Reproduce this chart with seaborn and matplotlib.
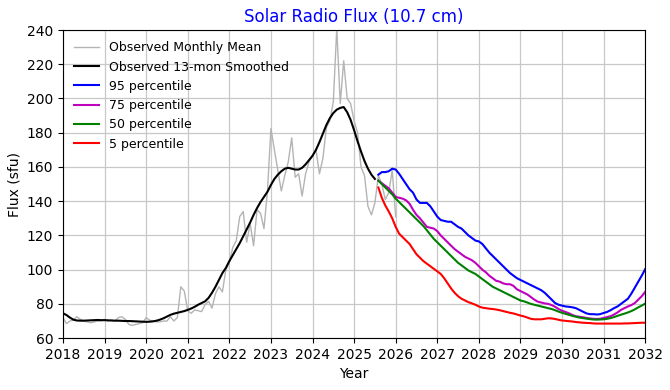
import numpy as np
import matplotlib
matplotlib.use("Agg")
import matplotlib.pyplot as plt
import seaborn as sns

# observed monthly mean F10.7, Jan 2018 .. Jan 2026
monthly_mean = [
    72, 68.5, 70, 70.5, 72.5, 71, 70, 69.5, 69, 69.5, 70, 70,
    71, 70, 70.5, 70, 72, 72.5, 71, 68, 67.5, 68, 68.5, 69,
    72, 70.5, 70, 69.5, 69.5, 70, 70, 72.5, 70, 72, 90, 87.5,
    76, 74.5, 76.5, 76, 75.5, 79.5, 81.5, 77.5, 86, 90, 87, 100,
    104, 113, 117, 131, 134, 116, 127, 114, 135, 133, 124, 146,
    182.5, 170, 158, 146, 155, 163, 177, 154, 156, 143, 156, 163,
    167, 170, 156, 165, 183, 187, 198, 241, 197, 222, 200, 197,
    187, 180, 160, 155, 137, 132, 139, 155, 150, 141, 145, 158,
    131,
]

# 13-month smoothed, Jan 2018 .. Jul 2025
smoothed = [
    74.5, 73.5, 72, 70.8, 70.3, 70.2, 70.2, 70.3, 70.4, 70.5, 70.6, 70.5,
    70.5, 70.4, 70.3, 70.2, 70.2, 70.1, 70.0, 70.0, 69.9, 69.8, 69.7, 69.6,
    69.5, 69.6, 69.8, 70.2, 70.8, 71.6, 72.6, 73.6, 74.3, 74.8, 75.3, 75.8,
    76.5, 77.3, 78.3, 79.5, 80.5, 81.5, 83.5, 86.5, 90, 94, 98, 101,
    105, 108.5, 112, 115.5, 119.5, 123.5, 127.5, 132, 136, 139.5, 142.5, 145.5,
    149.5, 153, 155.5, 157.5, 159, 159.5, 159, 158.5, 158.5, 159.5, 161.5, 164,
    166.5, 170, 174.5, 179.5, 184.5, 188.5, 191.5, 193.5, 194.5, 195, 192, 187.5,
    181.5, 175, 169, 163.5, 159, 155.5, 153,
]

# predictions, Aug 2025 .. Jan 2032
p95 = [
    155.5, 157, 157, 157.5, 159,
    158.5, 156, 153, 150, 147, 145, 141, 139, 139, 139, 137, 134,
    131, 129, 128.5, 128, 128, 126.5, 125, 124, 122, 120, 118.5, 117,
    116.5, 115, 112.5, 110, 108, 106, 104, 102, 100, 98, 96.5, 95,
    94, 93, 92, 91, 90, 89, 88, 86.5, 84.5, 82.5, 80.5, 79.5,
    79, 78.5, 78.3, 78, 77.5, 76.5, 75.5, 74.5, 74, 74, 73.8, 74,
    74.7, 75.3, 76.3, 77.5, 78.5, 80, 81.5, 83, 86, 89.5, 93, 96.5,
    100.3,
]
p75 = [
    152, 150.5, 149, 147.5, 145,
    142.5, 142, 141.5, 140.5, 138.5, 135, 132, 130, 127.5, 125, 124.5, 124,
    122.5, 120, 118, 116, 114, 112, 110.5, 109, 107.5, 106.5, 105.5, 104,
    102, 100, 98.5, 96.5, 95, 93.5, 93, 92, 91.5, 91.5, 90.5, 88.5,
    87.5, 86.5, 85.5, 84, 82.5, 81.3, 80.8, 80.3, 80, 79.3, 78.3, 77,
    76, 75.3, 74.5, 73.5, 72.8, 72.5, 72.2, 71.8, 71.5, 71.3, 71.2, 71.3,
    71.8, 72.3, 72.8, 73.8, 75, 76.5, 77.5, 78.5, 79.3, 80.5, 82.5, 84.5,
    87,
]
p50 = [
    152, 150, 148, 146, 144,
    141.5, 139.5, 137.5, 135.5, 133.5, 131.5, 129.5, 127.5, 125.5, 123, 120.5, 118,
    116, 114, 112, 110, 108, 106, 104, 102.5, 101, 99.5, 98.5, 97.5,
    96, 94.5, 93, 91.5, 90, 89, 88, 87, 86, 85, 84, 83,
    82, 81.5, 80.8, 80, 79.5, 79, 78.5, 78, 77.5, 77, 76.3, 75.5,
    74.8, 74.2, 73.6, 73, 72.5, 72, 71.7, 71.4, 71.1, 70.9, 70.8, 70.9,
    71, 71.3, 71.7, 72.3, 73, 73.7, 74.3, 75, 75.8, 76.8, 78, 79,
    80.2,
]
p05 = [
    148, 142, 137.5, 134, 130,
    125, 121, 119, 117, 115, 112, 109, 107, 105, 103.5, 102, 100.5,
    99, 97.5, 95, 92, 89, 86.5, 84.5, 83, 82, 81, 80.3, 79.5,
    78.5, 77.8, 77.5, 77.2, 77, 76.7, 76.3, 75.8, 75.3, 74.8, 74.4, 73.8,
    73.2, 72.7, 72, 71.3, 71, 71, 71, 71.3, 71.6, 71.5, 71.2, 70.7,
    70.3, 70.1, 69.9, 69.7, 69.4, 69.2, 69, 68.9, 68.8, 68.6, 68.5, 68.5,
    68.5, 68.5, 68.5, 68.5, 68.5, 68.5, 68.6, 68.6, 68.7, 68.8, 68.9, 69,
    69,
]

obs_years = 2018 + np.arange(len(monthly_mean)) / 12
smooth_years = 2018 + np.arange(len(smoothed)) / 12
pred_years = 2025 + 7 / 12 + np.arange(len(p95)) / 12

fig, ax = plt.subplots(figsize=(6.7, 3.9), dpi=100)
fig.subplots_adjust(left=0.094, right=0.963, bottom=0.133, top=0.923)

sns.lineplot(x=obs_years, y=monthly_mean, color="#b4b4b4", lw=1, label="Observed Monthly Mean", ax=ax)
sns.lineplot(x=smooth_years, y=smoothed, color="black", lw=1.5, label="Observed 13-mon Smoothed", ax=ax)
sns.lineplot(x=pred_years, y=p95, color="b", lw=1.5, label="95 percentile", ax=ax)
sns.lineplot(x=pred_years, y=p75, color="m", lw=1.5, label="75 percentile", ax=ax)
sns.lineplot(x=pred_years, y=p50, color="g", lw=1.5, label="50 percentile", ax=ax)
sns.lineplot(x=pred_years, y=p05, color="r", lw=1.5, label="5 percentile", ax=ax)

ax.set_xlim(2018, 2032)
ax.set_ylim(60, 240)
ax.set_xticks(range(2018, 2033))
ax.set_yticks(range(60, 241, 20))
ax.grid(True, color="#c8c8c8", lw=0.9)
ax.set_axisbelow(True)
ax.set_title("Solar Radio Flux (10.7 cm)", color="blue", fontsize=12)
ax.set_xlabel("Year")
ax.set_ylabel("Flux (sfu)")
ax.legend(loc="upper left", frameon=False, fontsize=9)

fig.savefig("out.png", dpi=100)
